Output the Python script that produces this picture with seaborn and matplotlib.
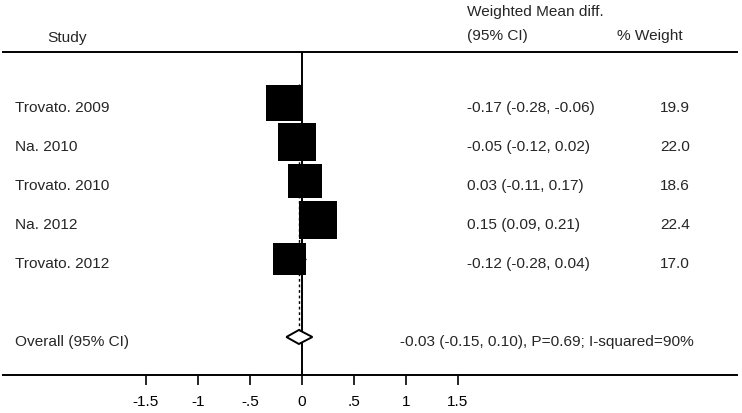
import matplotlib
matplotlib.use("Agg")
import matplotlib.pyplot as plt
from matplotlib.patches import Polygon
import seaborn as sns
import pandas as pd
import numpy as np

# ---- data ----
studies = ["Trovato. 2009", "Na. 2010", "Trovato. 2010", "Na. 2012", "Trovato. 2012"]
estimates = [-0.17, -0.05, 0.03, 0.15, -0.12]
ci_low = [-0.28, -0.12, -0.11, 0.09, -0.28]
ci_high = [-0.06, 0.02, 0.17, 0.21, 0.04]
weights = [19.9, 22.0, 18.6, 22.4, 17.0]
overall_est = -0.03
overall_low = -0.15
overall_high = 0.10
overall_label = "Overall (95% CI)"
overall_text = "-0.03 (-0.15, 0.10), P=0.69; I-squared=90%"
tick_values = [-1.5, -1, -0.5, 0, 0.5, 1, 1.5]
tick_labels = ["-1.5", "-1", "-.5", "0", ".5", "1", "1.5"]

sns.set_theme(style="white")
plt.rcParams["font.family"] = ["Liberation Sans", "DejaVu Sans"]
plt.rcParams["axes.unicode_minus"] = False

W, H = 742, 413
fig = plt.figure(figsize=(W / 100, H / 100), dpi=100)
# axes from px 3..737 horizontally, 52..375 vertically
ax = fig.add_axes([3 / W, (H - 375) / H, (737 - 3) / W, (375 - 52) / H])

X0, PPU = 302, 104.0   # px of zero, px per unit
ROW0, ROWH = 103, 39.0  # px of first row, px per row


def xd(px):
    return (px - X0) / PPU


def yd(py):
    return (py - ROW0) / ROWH


ax.set_xlim(xd(3), xd(737))
ax.set_ylim(yd(375), yd(52))

rows = np.arange(len(studies))
overall_row = len(studies) + 1
toff = 5 / ROWH  # text sits slightly below marker centre

df = pd.DataFrame({"study": studies, "est": estimates, "lo": ci_low,
                   "hi": ci_high, "w": weights, "row": rows})

# CI lines
ax.hlines(df["row"], df["lo"], df["hi"], color="black", lw=1.0, zorder=2)
# null line
ax.axvline(0, color="black", lw=1.4, zorder=1)
# overall dashed line
ax.vlines(overall_est, -0.5, overall_row, color="black", lw=1.0,
          linestyles=(0, (2, 2)), zorder=1)

side_pt = 8.0 * 0.72
sizes = {w: side_pt ** 2 * w for w in weights}
sns.scatterplot(data=df, x="est", y="row", size="w", sizes=sizes, marker="s",
                color="black", edgecolor="none", legend=False, ax=ax, zorder=3)

# diamond
hh = 7 / ROWH
diamond = Polygon([(overall_low, overall_row), (overall_est, overall_row - hh),
                   (overall_high, overall_row), (overall_est, overall_row + hh)],
                  closed=True, facecolor="white", edgecolor="black", lw=1.4, zorder=4)
ax.add_patch(diamond)

fs = 11.1
for r, s, e, lo, hi, w in zip(rows, studies, estimates, ci_low, ci_high, weights):
    ax.text(xd(15), r + toff, s, ha="left", va="center", fontsize=fs)
    ax.text(xd(467), r + toff, f"{e:.2f} ({lo:.2f}, {hi:.2f})", ha="left", va="center", fontsize=fs)
    ax.text(xd(690), r + toff, f"{w:.1f}", ha="right", va="center", fontsize=fs)

ax.text(xd(15), overall_row + toff, overall_label, ha="left", va="center", fontsize=fs)
ax.text(xd(400), overall_row + toff, overall_text, ha="left", va="center", fontsize=fs)

# headers
ax.text(xd(47), yd(38), "Study", ha="left", va="center", fontsize=fs, clip_on=False)
ax.text(xd(467), yd(12), "Weighted Mean diff.", ha="left", va="center", fontsize=fs, clip_on=False)
ax.text(xd(467), yd(36), "(95% CI)", ha="left", va="center", fontsize=fs, clip_on=False)
ax.text(xd(617), yd(36), "% Weight", ha="left", va="center", fontsize=fs, clip_on=False)

# axes styling
for sp in ["left", "right"]:
    ax.spines[sp].set_visible(False)
for sp in ["top", "bottom"]:
    ax.spines[sp].set_visible(True)
    ax.spines[sp].set_color("black")
    ax.spines[sp].set_linewidth(1.4)
ax.set_yticks([])
ax.set_xticks(tick_values)
ax.set_xticklabels(tick_labels, fontsize=fs)
ax.tick_params(axis="x", direction="out", length=7.2, width=1.2, pad=7,
               colors="black", bottom=True)
ax.set_xlabel("")
ax.set_ylabel("")

fig.savefig("out.png", dpi=100)
